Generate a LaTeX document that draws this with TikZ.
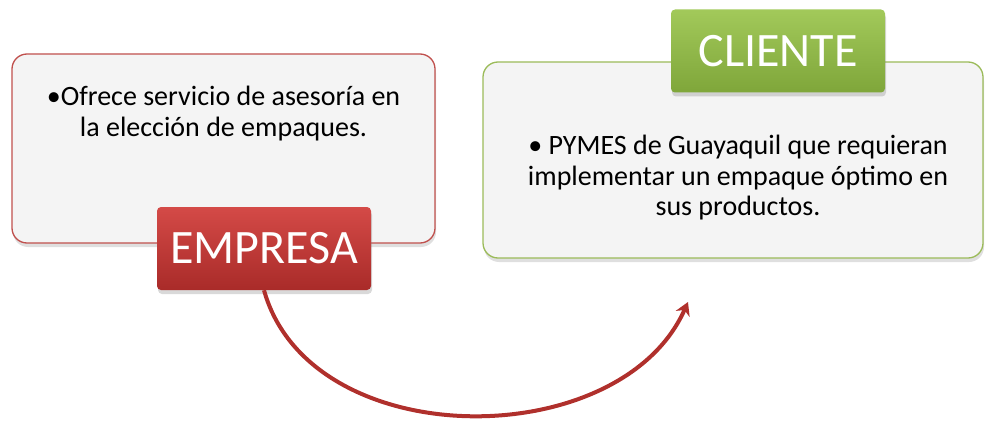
\documentclass[tikz,border=0pt]{standalone}
\usepackage{fontspec}
\setmainfont{Carlito}
\usepackage{tikz}
\usetikzlibrary{arrows.meta}
\usetikzlibrary{positioning}
\usetikzlibrary{shadows}
\tikzset{>={Stealth[length=13pt, width=15pt]}}
\definecolor{panelfill}{HTML}{F4F4F4}
\definecolor{redline}{HTML}{C0504D}
\definecolor{greenline}{HTML}{9BBB59}
\definecolor{redtop}{HTML}{D44A47}
\definecolor{redbot}{HTML}{A92B29}
\definecolor{greentop}{HTML}{A2C95A}
\definecolor{greenbot}{HTML}{7FA63A}
\definecolor{curvecol}{HTML}{B0302C}

\begin{document}
\begin{tikzpicture}[
				x=1pt, y=-1pt,
				panel/.style = {
					rectangle, rounded corners=15pt,
					fill=panelfill, line width=1.3pt,
					drop shadow={shadow xshift=1pt, shadow yshift=-4pt, opacity=0.25}
				},
				paneltext/.style = {
					inner sep=0pt, align=center,
					font=\fontsize{28}{30.5}\selectfont
				},
				tag/.style = {
					rectangle, rounded corners=4pt,
					minimum width=214pt, minimum height=83pt,
					text=white, font=\fontsize{48}{50}\selectfont,
					drop shadow={shadow xshift=1pt, shadow yshift=-4pt, opacity=0.3}
				}
			]
				\useasboundingbox (0,0) rectangle (985,425);
				\node[panel, draw=redline, minimum width=423pt, minimum height=189pt]
					(empbox) at (223.5,148.5) {};
				\node[panel, draw=greenline, minimum width=500pt, minimum height=196pt]
					(clibox) at (733,160) {};
				\node[paneltext, below=33pt of empbox.north] (emptext)
					{•Ofrece servicio de asesoría en\\la elección de empaques.};
				\node[paneltext, below=74pt of clibox.north, xshift=5pt] (clitext)
					{• PYMES de Guayaquil que requieran\\implementar un empaque óptimo en\\sus productos.};
				\node[tag, top color=redtop, bottom color=redbot] (empresa)
					at (264,248.5) {EMPRESA};
				\node[tag, top color=greentop, bottom color=greenbot] (cliente)
					at (778,51) {CLIENTE};
				\coordinate (tip) at (688,302);
				\draw[->, curvecol, line width=4pt]
					(empresa.south) .. controls (310,455) and (620,455) .. (tip);
			\end{tikzpicture}
\end{document}
